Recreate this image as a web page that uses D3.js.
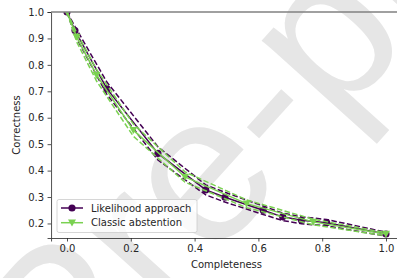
<!DOCTYPE html>
<html>
<head>
<meta charset="utf-8">
<script src="https://cdn.jsdelivr.net/npm/d3@7"></script>
<style>
  body { margin: 0; background: #fff; }
  svg { display: block; font-family: "DejaVu Sans", sans-serif; }
</style>
</head>
<body>
<svg id="chart" width="397" height="278"></svg>
<script>
var svg = d3.select("#chart");
var width = +svg.attr("width"),
    height = +svg.attr("height");

// Likelihood approach (purple, circles)
var likeX     = [0.0, 0.025, 0.125, 0.285, 0.435, 0.495, 0.615, 0.676, 0.735, 0.814, 1.0];
var likeY     = [1.0, 0.93, 0.71, 0.465, 0.327, 0.299, 0.25, 0.225, 0.212, 0.203, 0.16];
var likeUpper = [1.0, 0.945, 0.735, 0.49, 0.346, 0.318, 0.266, 0.239, 0.225, 0.215, 0.167];
var likeLower = [1.0, 0.912, 0.688, 0.44, 0.308, 0.281, 0.234, 0.211, 0.199, 0.191, 0.152];

// Classic abstention (green, triangles)
var classX     = [0.0, 0.03, 0.093, 0.208, 0.37, 0.563, 0.772, 1.0];
var classY     = [1.0, 0.906, 0.761, 0.553, 0.376, 0.275, 0.206, 0.16];
var classUpper = [1.0, 0.922, 0.782, 0.576, 0.395, 0.289, 0.216, 0.165];
var classLower = [1.0, 0.888, 0.738, 0.53, 0.356, 0.26, 0.195, 0.153];

var xTicks = [0.0, 0.2, 0.4, 0.6, 0.8, 1.0];
var yTicks = [0.2, 0.3, 0.4, 0.5, 0.6, 0.7, 0.8, 0.9, 1.0];

var purple = "#440154", green = "#7ad151";
var fontSize = "10px";

var x = d3.scaleLinear().domain([-0.05, 1.05]).range([51.05, 401.95]);
var y = d3.scaleLinear().domain([0.145, 1.0]).range([238, 12]);

// watermark
var wm = svg.append("g")
  .attr("transform", "translate(335,125) rotate(-48)")
  .style("font-family", "'Liberation Sans', sans-serif")
  .style("font-size", "210px")
  .attr("fill", "#e6e6e6");
wm.append("text").attr("text-anchor", "end").text("Journal Pre-");
wm.append("text").attr("text-anchor", "start").text("proof");

svg.append("clipPath").attr("id", "plotclip")
  .append("rect")
  .attr("x", x(-0.05)).attr("y", y(1.0))
  .attr("width", x(1.05) - x(-0.05)).attr("height", y(0.145) - y(1.0));

var plot = svg.append("g").attr("clip-path", "url(#plotclip)");

var line = d3.line().x(d => x(d[0])).y(d => y(d[1]));

function drawSeries(xs, ys, up, lo, color, marker) {
  plot.append("path")
    .attr("d", line(d3.zip(xs, up)))
    .attr("fill", "none").attr("stroke", color)
    .attr("stroke-width", 1.5).attr("stroke-dasharray", "5.5,2.4");
  plot.append("path")
    .attr("d", line(d3.zip(xs, lo)))
    .attr("fill", "none").attr("stroke", color)
    .attr("stroke-width", 1.5).attr("stroke-dasharray", "5.5,2.4");
  plot.append("path")
    .attr("d", line(d3.zip(xs, ys)))
    .attr("fill", "none").attr("stroke", color)
    .attr("stroke-width", 1.5);
  plot.selectAll(null)
    .data(d3.zip(xs, ys))
    .enter()
    .append("path")
      .attr("transform", d => "translate(" + x(d[0]) + "," + y(d[1]) + ")")
      .attr("d", marker)
      .attr("fill", color);
}

var circleMarker = d3.symbol().type(d3.symbolCircle).size(40)();
var triMarker = "M-4,-3.2L4,-3.2L0,3.8Z";

drawSeries(likeX, likeY, likeUpper, likeLower, purple, circleMarker);
drawSeries(classX, classY, classUpper, classLower, green, triMarker);

// axes
var xAxis = svg.append("g")
  .attr("transform", "translate(0," + y(0.145) + ")")
  .call(d3.axisBottom(x).tickValues(xTicks).tickFormat(d3.format(".1f")).tickSizeOuter(0).tickSize(3.5).tickPadding(3.5));
var yAxis = svg.append("g")
  .attr("transform", "translate(" + x(-0.05) + ",0)")
  .call(d3.axisLeft(y).tickValues(yTicks).tickFormat(d3.format(".1f")).tickSizeOuter(0).tickSize(3.5).tickPadding(3.5));

[xAxis, yAxis].forEach(function(a) {
  a.selectAll("text").style("font-family", "'DejaVu Sans', sans-serif")
    .style("font-size", fontSize).attr("fill", "#262626");
  a.selectAll("line").attr("stroke", "#262626").attr("stroke-width", 0.8);
  a.select(".domain").attr("stroke", "#262626").attr("stroke-width", 0.8);
});

// top border
svg.append("line")
  .attr("x1", x(-0.05)).attr("x2", width)
  .attr("y1", y(1.0)).attr("y2", y(1.0))
  .attr("stroke", "#808080").attr("stroke-width", 1.4);

svg.append("text")
  .attr("x", (x(-0.05) + x(1.05)) / 2).attr("y", 268)
  .attr("text-anchor", "middle")
  .style("font-size", fontSize).attr("fill", "#262626")
  .text("Completeness");

svg.append("text")
  .attr("transform", "translate(20," + ((y(1.0) + y(0.145)) / 2) + ") rotate(-90)")
  .attr("text-anchor", "middle")
  .style("font-size", fontSize).attr("fill", "#262626")
  .text("Correctness");

// legend
var legendData = [
  {label: "Likelihood approach", color: purple, marker: circleMarker},
  {label: "Classic abstention", color: green, marker: triMarker}
];

var legend = svg.append("g").attr("transform", "translate(57,199.5)");
legend.append("rect")
  .attr("width", 140).attr("height", 33).attr("rx", 2)
  .attr("fill", "#fff").attr("fill-opacity", 0.8)
  .attr("stroke", "#cccccc").attr("stroke-width", 0.8);

var items = legend.selectAll("g.item")
  .data(legendData)
  .enter()
  .append("g")
    .attr("transform", (d, i) => "translate(0," + (8.5 + i * 14.7) + ")");
items.append("line")
  .attr("x1", 4).attr("x2", 26)
  .attr("stroke", d => d.color).attr("stroke-width", 1.5);
items.append("path")
  .attr("transform", "translate(15,0)")
  .attr("d", d => d.marker)
  .attr("fill", d => d.color);
items.append("text")
  .attr("x", 34).attr("y", 3.6)
  .style("font-size", fontSize).attr("fill", "#262626")
  .text(d => d.label);
</script>
</body>
</html>
